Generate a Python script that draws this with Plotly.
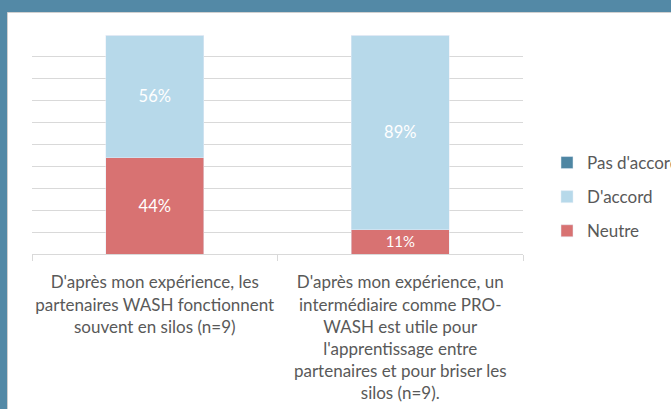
import plotly.graph_objects as go

categories = [
    "D'après mon expérience, les<br>partenaires WASH fonctionnent<br>souvent en silos (n=9)",
    "D'après mon expérience, un<br>intermédiaire comme PRO-<br>WASH est utile pour<br>l'apprentissage entre<br>partenaires et pour briser les<br>silos (n=9).",
]
cat_ids = ["q1", "q2"]
series_names = ["Neutre", "D'accord", "Pas d'accord"]
neutre = [0.44, 0.11]
d_accord = [0.56, 0.89]
pas_d_accord = [0.0, 0.0]

W, H = 671, 409
L, R, T, B = 32, 523, 35, 254

fig = go.Figure()
fig.add_trace(go.Bar(x=cat_ids, y=neutre, name=series_names[0], marker_color="#d87272",
                     texttemplate="%{y:.0%}", textposition="inside", insidetextanchor="middle",
                     textfont=dict(color="white", size=16.5), legendgroup="a", legendrank=3))
fig.add_trace(go.Bar(x=cat_ids, y=d_accord, name=series_names[1], marker_color="#b7d9ea",
                     texttemplate="%{y:.0%}", textposition="inside", insidetextanchor="middle",
                     textfont=dict(color="white", size=16.5), legendgroup="b", legendrank=2))
fig.add_trace(go.Bar(x=cat_ids, y=pas_d_accord, name=series_names[2], marker_color="#4e86a3",
                     legendgroup="c", legendrank=1))

pw = R - L
ph = B - T
def px_x(x):
    return (x - L) / pw
def px_y(y):
    return (B - y) / ph

fig.update_layout(
    width=W, height=H,
    margin=dict(l=L, r=W - R, t=T, b=H - B, autoexpand=False),
    barmode="stack", bargap=0.6,
    paper_bgcolor="#5389a6", plot_bgcolor="white",
    font=dict(family="Lato, Open Sans, sans-serif", color="#595959", size=17),
    showlegend=True,
    legend=dict(x=px_x(547), y=px_y(145), xanchor="left", yanchor="top",
                traceorder="grouped", tracegroupgap=9,
                font=dict(size=17, color="#595959"), bgcolor="rgba(0,0,0,0)"),
    xaxis=dict(tickmode="array", tickvals=cat_ids, ticktext=categories, automargin=False,
               tickson="boundaries", ticks="outside", ticklen=6, tickcolor="#d9d9d9",
               showline=True, linecolor="#d9d9d9", linewidth=1, ticklabelstandoff=13,
               tickangle=0, tickfont=dict(size=17, color="#595959")),
    yaxis=dict(range=[0, 1], dtick=0.1, showticklabels=False, showgrid=True, automargin=False,
               gridcolor="#d9d9d9", gridwidth=1, zeroline=False, showline=False),
)

# white slide panel inside the blue-grey border
fig.add_shape(type="rect", xref="paper", yref="paper",
              x0=px_x(7.5), x1=px_x(W + 20), y0=px_y(H + 20), y1=px_y(12.5),
              fillcolor="white", line=dict(color="#d0d0d0", width=1), layer="below")

fig.write_html("out.html", config={"displayModeBar": False},
               post_script="document.body.style.margin='0';")
